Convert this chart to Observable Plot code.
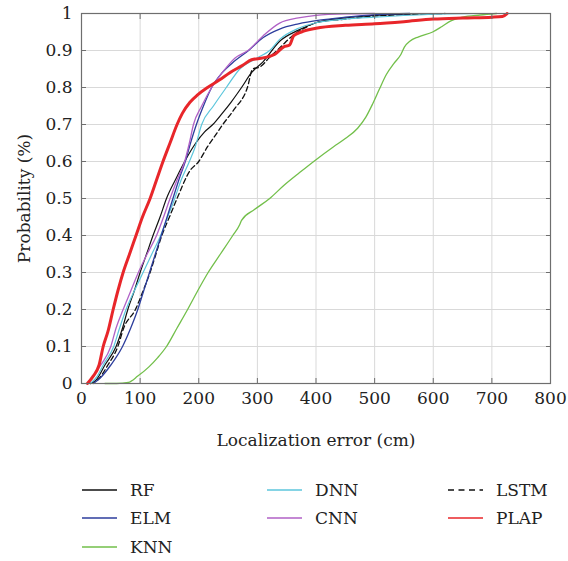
<!DOCTYPE html>
<html>
<head>
<meta charset="utf-8">
<script src="https://cdn.jsdelivr.net/npm/d3@7"></script>
<script src="https://cdn.jsdelivr.net/npm/@observablehq/plot@0.6"></script>
<style>
  html, body { margin: 0; padding: 0; background: #fff; }
  #wrap { position: relative; width: 568px; height: 561px; font-family: "DejaVu Serif", "Liberation Serif", serif; }
  #legend { position: absolute; left: 0; top: 0; width: 568px; height: 561px; pointer-events: none; }
  .lg-item { position: absolute; display: flex; align-items: center; font-size: 17px; color: #222; font-family: "DejaVu Serif", "Liberation Serif", serif; }
  .lg-item svg { margin-right: 13px; }
  svg text { font-family: "DejaVu Serif", "Liberation Serif", serif; }
</style>
</head>
<body>
<div id="wrap"><div id="chart"></div><div id="legend"></div></div>
<script>
// ---- data ----
const seriesNames = ["RF", "ELM", "KNN", "DNN", "CNN", "LSTM", "PLAP"];
const seriesColors = ["#111111", "#2c3d9c", "#72bf4a", "#5cc6dc", "#b061c6", "#111111", "#e8262a"];
const seriesWidths = [1.2, 1.3, 1.3, 1.2, 1.3, 1.3, 3];
const seriesDash = [null, null, null, null, null, "5,3", null];

const RF = [[15,0],[25,0.01],[40,0.05],[59,0.1],[70,0.15],[79,0.2],[90,0.25],[100,0.3],[111,0.35],[122,0.4],[134,0.45],[145,0.5],[160,0.55],[176,0.6],[195,0.65],[210,0.68],[224,0.7],[240,0.73],[255,0.76],[273,0.8],[290,0.84],[310,0.87],[338,0.925],[370,0.955],[400,0.975],[450,0.988],[500,0.995],[550,0.998],[620,1]];
const ELM = [[20,0],[32,0.015],[50,0.05],[70,0.1],[84,0.15],[96,0.2],[106,0.25],[116,0.3],[126,0.35],[136,0.4],[146,0.45],[156,0.5],[166,0.55],[177,0.6],[186,0.65],[196,0.7],[208,0.75],[222,0.8],[240,0.84],[260,0.87],[285,0.9],[310,0.935],[338,0.958],[370,0.972],[406,0.982],[450,0.99],[500,0.997],[560,1]];
const KNN = [[40,0],[60,0],[80,0.003],[96,0.02],[115,0.045],[130,0.07],[145,0.1],[163,0.15],[181,0.2],[198,0.25],[216,0.3],[237,0.35],[258,0.4],[270,0.43],[273,0.441],[295,0.47],[321,0.5],[345,0.535],[372,0.57],[400,0.605],[430,0.64],[450,0.662],[471,0.69],[485,0.72],[497,0.757],[508,0.795],[520,0.835],[533,0.865],[545,0.89],[551,0.91],[560,0.925],[575,0.937],[599,0.95],[615,0.965],[630,0.98],[650,0.99],[680,0.996],[708,1]];
const DNN = [[15,0],[27,0.02],[37,0.05],[55,0.1],[65,0.15],[76,0.2],[90,0.25],[105,0.3],[120,0.35],[135,0.4],[147,0.45],[159,0.5],[170,0.55],[184,0.6],[194,0.64],[205,0.7],[225,0.75],[247,0.8],[270,0.85],[300,0.88],[321,0.9],[338,0.93],[370,0.96],[400,0.975],[450,0.985],[500,0.99],[600,0.998],[680,1]];
const CNN = [[10,0],[20,0.02],[33,0.05],[50,0.1],[59,0.15],[71,0.2],[84,0.25],[97,0.3],[112,0.35],[128,0.4],[140,0.45],[151,0.5],[163,0.55],[176,0.6],[184,0.65],[191,0.7],[205,0.75],[222,0.8],[240,0.84],[262,0.88],[284,0.9],[310,0.94],[338,0.974],[370,0.988],[400,0.995],[450,0.999],[500,1]];
const LSTM = [[15,0],[28,0.01],[45,0.05],[62,0.1],[72,0.15],[92,0.2],[105,0.25],[117,0.3],[127,0.35],[137,0.4],[150,0.45],[163,0.5],[185,0.575],[200,0.6],[215,0.64],[228,0.67],[241,0.7],[260,0.74],[283,0.8],[292,0.85],[305,0.856],[320,0.88],[340,0.91],[360,0.94],[380,0.96],[400,0.975],[450,0.985],[500,0.993],[550,0.997],[620,1]];
const PLAP = [[10,0],[20,0.02],[30,0.05],[37,0.1],[45,0.14],[54,0.2],[62,0.25],[71,0.3],[82,0.35],[93,0.4],[104,0.45],[117,0.5],[128,0.55],[139,0.6],[151,0.65],[163,0.7],[172,0.73],[185,0.76],[198,0.78],[215,0.8],[235,0.82],[253,0.84],[275,0.86],[290,0.875],[310,0.88],[330,0.89],[345,0.91],[355,0.915],[362,0.94],[375,0.95],[400,0.96],[450,0.968],[500,0.972],[550,0.978],[600,0.985],[650,0.988],[700,0.99],[718,0.992],[726,1]];

const xTicks = [0, 100, 200, 300, 400, 500, 600, 700, 800];
const yTicks = [0, 0.1, 0.2, 0.3, 0.4, 0.5, 0.6, 0.7, 0.8, 0.9, 1];
const xLabel = "Localization error (cm)";
const yLabel = "Probability (%)";

// ---- build table ----
const seriesPoints = [RF, ELM, KNN, DNN, CNN, LSTM, PLAP];
const rows = seriesNames.flatMap((name, i) => seriesPoints[i].map(([x, y]) => ({name, x, y})));
const drawOrder = ["KNN", "LSTM", "RF", "DNN", "ELM", "CNN", "PLAP"];

const yFmt = d => (d === 0 ? "0" : d === 1 ? "1" : d.toFixed(1));
const serif = "'DejaVu Serif', 'Liberation Serif', serif";

const lineMarks = drawOrder.map(name => {
  const i = seriesNames.indexOf(name);
  return Plot.line(rows.filter(r => r.name === name), {
    x: "x", y: "y",
    curve: "monotone-x",
    stroke: seriesColors[i],
    strokeWidth: seriesWidths[i],
    strokeDasharray: seriesDash[i] ?? undefined,
    strokeLinejoin: "round"
  });
});

const chart = Plot.plot({
  width: 568,
  height: 460,
  marginTop: 13,
  marginBottom: 77,
  marginLeft: 81,
  marginRight: 18,
  style: { fontFamily: serif, fontSize: "17px", color: "#222", background: "#fff" },
  x: { domain: [0, 800] },
  y: { domain: [0, 1] },
  marks: [
    Plot.gridX(xTicks, { stroke: "#d9d9d9", strokeOpacity: 1, strokeWidth: 1 }),
    Plot.gridY(yTicks, { stroke: "#d9d9d9", strokeOpacity: 1, strokeWidth: 1 }),
    ...lineMarks,
    Plot.frame({ stroke: "#6e6e6e", strokeWidth: 1.2 }),
    Plot.axisX(xTicks, { anchor: "bottom", tickSize: -5, tickPadding: 13, stroke: "#6e6e6e", fill: "#222",
      label: xLabel, labelAnchor: "center", labelArrow: "none", labelOffset: 62 }),
    Plot.axisX(xTicks, { anchor: "top", tickSize: -5, stroke: "#6e6e6e", tickFormat: () => "", label: null }),
    Plot.axisY(yTicks, { anchor: "left", tickSize: -5, tickPadding: 14, stroke: "#6e6e6e", fill: "#222", tickFormat: yFmt,
      label: yLabel, labelAnchor: "center", labelArrow: "none", labelOffset: 64 }),
    Plot.axisY(yTicks, { anchor: "right", tickSize: -5, stroke: "#6e6e6e", tickFormat: () => "", label: null })
  ]
});
document.getElementById("chart").appendChild(chart);

// ---- legend (below the chart) ----
const legendColumns = [["RF", "ELM", "KNN"], ["DNN", "CNN"], ["LSTM", "PLAP"]];
const colLeft = [82, 267, 448];
const rowTop = [490, 518, 547];
const legend = document.getElementById("legend");
legendColumns.forEach((col, c) => col.forEach((name, r) => {
  const i = seriesNames.indexOf(name);
  const item = document.createElement("div");
  item.className = "lg-item";
  item.style.left = colLeft[c] + "px";
  item.style.top = (rowTop[r] - 12) + "px";
  item.style.height = "24px";
  const dash = seriesDash[i] ? `stroke-dasharray="6,4.5"` : "";
  const sw = name === "PLAP" ? 1.6 : 1.4;
  item.innerHTML = `<svg width="35" height="10"><line x1="0" x2="35" y1="5" y2="5" stroke="${seriesColors[i]}" stroke-width="${sw}" ${dash}/></svg><span>${name}</span>`;
  legend.appendChild(item);
}));
</script>
</body>
</html>
